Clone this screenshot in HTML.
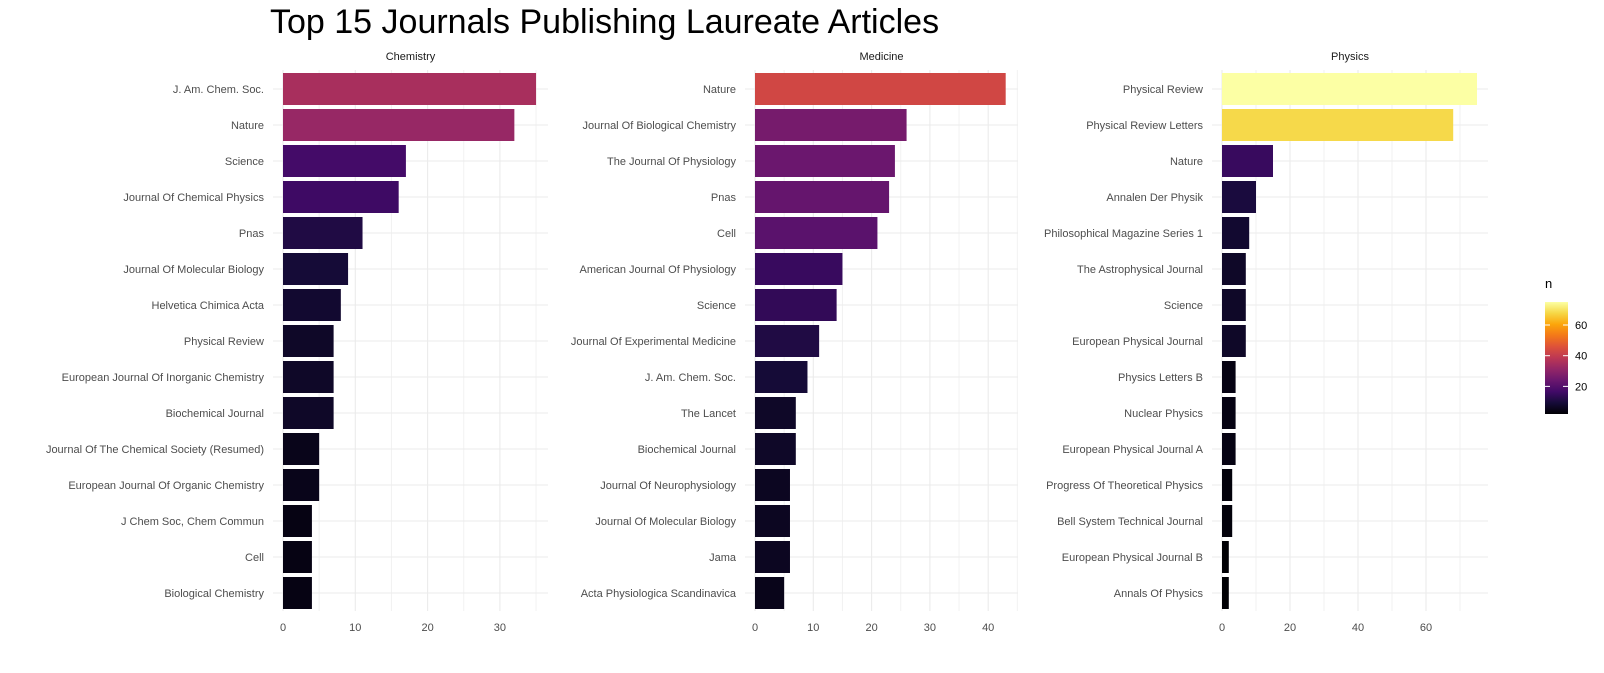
<!DOCTYPE html>
<html><head><meta charset="utf-8"><style>
body{margin:0;background:#fff;}
svg{display:block;font-family:"Liberation Sans",sans-serif;}
</style></head><body>
<svg id="c" width="1604" height="673"></svg>
<script>
const chemCats=["J. Am. Chem. Soc.","Nature","Science","Journal Of Chemical Physics","Pnas","Journal Of Molecular Biology","Helvetica Chimica Acta","Physical Review","European Journal Of Inorganic Chemistry","Biochemical Journal","Journal Of The Chemical Society (Resumed)","European Journal Of Organic Chemistry","J Chem Soc, Chem Commun","Cell","Biological Chemistry"];
const chemVals=[35,32,17,16,11,9,8,7,7,7,5,5,4,4,4];
const medCats=["Nature","Journal Of Biological Chemistry","The Journal Of Physiology","Pnas","Cell","American Journal Of Physiology","Science","Journal Of Experimental Medicine","J. Am. Chem. Soc.","The Lancet","Biochemical Journal","Journal Of Neurophysiology","Journal Of Molecular Biology","Jama","Acta Physiologica Scandinavica"];
const medVals=[43,26,24,23,21,15,14,11,9,7,7,6,6,6,5];
const phyCats=["Physical Review","Physical Review Letters","Nature","Annalen Der Physik","Philosophical Magazine Series 1","The Astrophysical Journal","Science","European Physical Journal","Physics Letters B","Nuclear Physics","European Physical Journal A","Progress Of Theoretical Physics","Bell System Technical Journal","European Physical Journal B","Annals Of Physics"];
const phyVals=[75,68,15,10,8,7,7,7,4,4,4,3,3,2,2];
const chemTicks=[0,10,20,30];
const medTicks=[0,10,20,30,40];
const phyTicks=[0,20,40,60];
const legendTicks=[20,40,60];

const NS="http://www.w3.org/2000/svg";
const svg=document.getElementById('c');
function mk(t,a,p){const e=document.createElementNS(NS,t);for(const k in a)e.setAttribute(k,a[k]);(p||svg).appendChild(e);return e;}
const stops=["#000004","#160b39","#420a68","#6a176e","#932667","#bc3754","#dd513a","#f37819","#fca50a","#f6d746","#fcffa4"];
const all=chemVals.concat(medVals,phyVals);
const vmin=Math.min(...all),vmax=Math.max(...all);
function hex(h){return [1,3,5].map(i=>parseInt(h.substr(i,2),16));}
function color(v){let t=(v-vmin)/(vmax-vmin);t=Math.max(0,Math.min(1,t));const p=t*10,i=Math.min(9,Math.floor(p)),f=p-i;const a=hex(stops[i]),b=hex(stops[i+1]);return `rgb(${a.map((x,k)=>Math.round(x+(b[k]-x)*f)).join(',')})`;}

const t=mk('text',{x:270,y:33,'font-size':34,fill:'#000'});t.textContent="Top 15 Journals Publishing Laureate Articles";


const rowY=i=>89+36*i;
function panel(name,cats,vals,ticks,x0,ppu,left,right){
  const g=mk('g',{});
  
  
  const x=v=>x0+v*ppu;
  const top=70,bot=611;
  for(let i=0;i<ticks.length;i++){
    const m=ticks[i]+(ticks[1]-ticks[0])/2;
    if(x(m)<right) mk('line',{x1:x(m),x2:x(m),y1:top,y2:bot,stroke:'#f2f2f2','stroke-width':1},g);
  }
  ticks.forEach(v=>{mk('line',{x1:x(v),x2:x(v),y1:top,y2:bot,stroke:'#ebebeb','stroke-width':1.1},g);
    const l=mk('text',{x:x(v),y:631,'text-anchor':'middle','font-size':11,fill:'#4d4d4d'},g);l.textContent=v;
    });
  cats.forEach((c,i)=>{mk('line',{x1:left,x2:right,y1:rowY(i),y2:rowY(i),stroke:'#ebebeb','stroke-width':1.1},g);});
  cats.forEach((c,i)=>{
    const r=mk('rect',{x:x(0),y:rowY(i)-16,width:x(vals[i])-x(0),height:32,fill:color(vals[i])},g);
    
    const l=mk('text',{x:x(0)-19,y:rowY(i)+4,'text-anchor':'end','font-size':11,fill:'#4d4d4d'},g);l.textContent=c;
    
  });
  const s=mk('text',{x:(left+right)/2,y:60,'text-anchor':'middle','font-size':11,fill:'#1a1a1a'},g);
  s.textContent=name.charAt(0).toUpperCase()+name.slice(1);
  
}
panel('chemistry',chemCats,chemVals,chemTicks,283,7.23,273,548);
panel('medicine',medCats,medVals,medTicks,755,5.83,745,1018);
panel('physics',phyCats,phyVals,phyTicks,1222,3.4,1212,1488);

const lg=mk('g',{});

const defs=mk('defs',{},svg);
const gr=mk('linearGradient',{id:'gr',x1:0,y1:1,x2:0,y2:0},defs);
stops.forEach((s,i)=>mk('stop',{offset:i/10,'stop-color':s},gr));
const lTop=302,lBot=414,ly=v=>lBot-(v-vmin)/(vmax-vmin)*(lBot-lTop);
mk('rect',{x:1545,y:lTop,width:23,height:lBot-lTop,fill:'url(#gr)'},lg);
const n=mk('text',{x:1545,y:288,'font-size':13,fill:'#000'},lg);n.textContent='n';
legendTicks.forEach(v=>{
  mk('line',{x1:1545,x2:1550,y1:ly(v),y2:ly(v),stroke:'#fff'},lg);
  mk('line',{x1:1563,x2:1568,y1:ly(v),y2:ly(v),stroke:'#fff'},lg);
  const l=mk('text',{x:1575,y:ly(v)+4,'font-size':11,fill:'#000'},lg);l.textContent=v;
  
});
</script>
</body></html>
